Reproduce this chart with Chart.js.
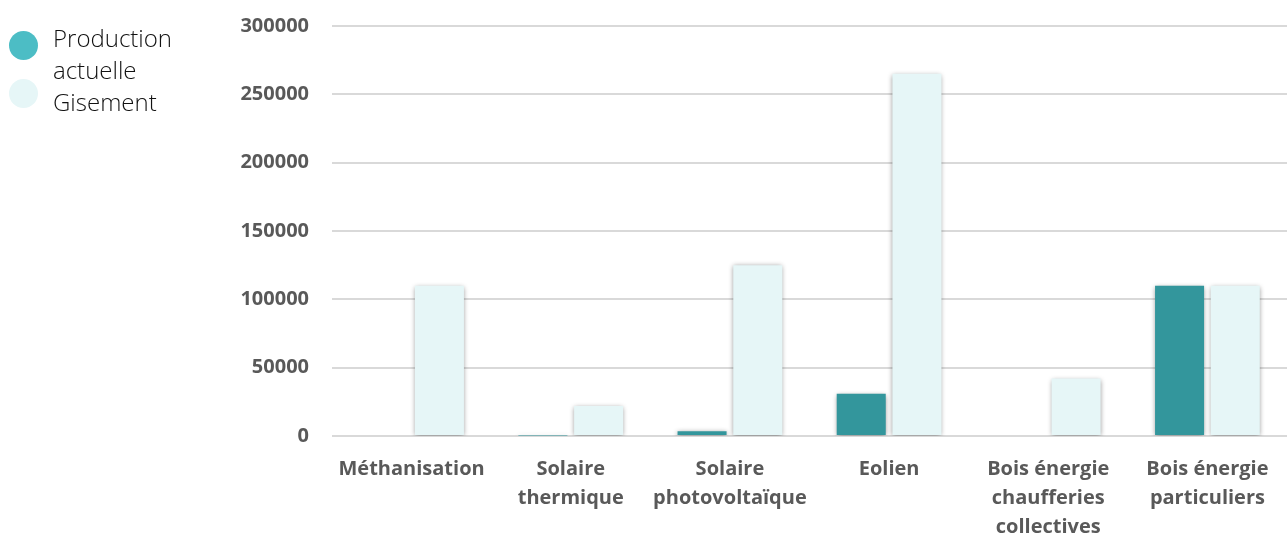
<!DOCTYPE html>
<html lang="fr">
<head>
<meta charset="utf-8">
<title>Production actuelle et gisement par filière</title>
<script src="https://cdn.jsdelivr.net/npm/chart.js@4.4.1/dist/chart.umd.min.js"></script>
<style>
  html, body { margin: 0; padding: 0; background: #ffffff; }
  #wrap { position: relative; width: 1287px; height: 533px; }
  #chart { position: absolute; left: 0; top: 0; }
  #legend { position: absolute; left: 9px; top: 22px; font-family: "Open Sans", sans-serif; font-weight: 300; font-size: 24px; color: #111111; line-height: 32px; }
  .item { position: relative; padding-left: 44px; white-space: pre; }
  .dot { position: absolute; left: 0; width: 29px; height: 29px; border-radius: 50%; }
</style>
</head>
<body>
<div id="wrap">
  <canvas id="chart" width="1287" height="533"></canvas>
  <div id="legend"></div>
</div>
<script>
// Filières d'énergie renouvelable
const categories = [
  ["Méthanisation"],
  ["Solaire", "thermique"],
  ["Solaire", "photovoltaïque"],
  ["Eolien"],
  ["Bois énergie", "chaufferies", "collectives"],
  ["Bois énergie", "particuliers"]
];
// Production actuelle
const production = [0, 300, 3500, 31000, 0, 110000];
// Gisement
const gisement = [110000, 22000, 125000, 265000, 42000, 110000];
// Graduations de l'axe vertical
const yTicks = [0, 50000, 100000, 150000, 200000, 250000, 300000];

const seriesNames = ["Production actuelle", "Gisement"];
const barColors = ["#33969C", "#E6F6F7"];
const legendColors = ["#4CBDC5", "#E6F6F7"];

// Légende à gauche (libellé sur deux lignes)
const legendEl = document.getElementById("legend");
const legendLines = [["Production", "actuelle"], ["Gisement"]];
const dotOffsets = [9, -7];
legendLines.forEach((lines, i) => {
  const item = document.createElement("div");
  item.className = "item";
  const dot = document.createElement("span");
  dot.className = "dot";
  dot.style.background = legendColors[i];
  dot.style.top = dotOffsets[i] + "px";
  item.appendChild(dot);
  item.appendChild(document.createTextNode(lines.join("\n")));
  legendEl.appendChild(item);
});

// Ombre portée légère sous les barres
const barShadow = {
  id: "barShadow",
  beforeDatasetsDraw(chart) {
    const ctx = chart.ctx;
    ctx.save();
    ctx.shadowColor = "rgba(0,0,0,0.45)";
    ctx.shadowBlur = 5;
    ctx.shadowOffsetX = 0;
    ctx.shadowOffsetY = 1;
  },
  afterDatasetsDraw(chart) {
    chart.ctx.restore();
  }
};

const xFont = { family: "'Open Sans', sans-serif", size: 20, weight: "bold", lineHeight: 1.45 };
const yFont = { family: "'Open Sans', sans-serif", size: 20, weight: "bold", lineHeight: 1.2 };

new Chart(document.getElementById("chart"), {
  type: "bar",
  data: {
    labels: categories,
    datasets: [
      { label: seriesNames[0], data: production, backgroundColor: barColors[0] },
      { label: seriesNames[1], data: gisement, backgroundColor: barColors[1] }
    ]
  },
  options: {
    responsive: false,
    animation: false,
    devicePixelRatio: 1,
    layout: { padding: { top: 26, right: 0, bottom: 0, left: 0 } },
    datasets: { bar: { categoryPercentage: 0.7, barPercentage: 0.88 } },
    plugins: {
      legend: { display: false },
      tooltip: { enabled: false }
    },
    scales: {
      x: {
        grid: { display: false },
        border: { display: false },
        ticks: {
          color: "#595959",
          font: xFont,
          padding: 11,
          maxRotation: 0,
          autoSkip: false
        },
        afterFit(scale) { scale.height = 97; }
      },
      y: {
        min: 0,
        max: 300000,
        afterBuildTicks(scale) { scale.ticks = yTicks.map(v => ({ value: v })); },
        grid: { color: "#d9d9d9", lineWidth: 2, drawTicks: false },
        border: { display: false },
        ticks: {
          color: "#595959",
          font: yFont,
          padding: 23,
          callback: (v) => String(v)
        },
        afterFit(scale) {
          scale.width = 332;
          scale.paddingTop = 0;
          scale.paddingBottom = 0;
        }
      }
    }
  },
  plugins: [barShadow]
});
</script>
</body>
</html>
